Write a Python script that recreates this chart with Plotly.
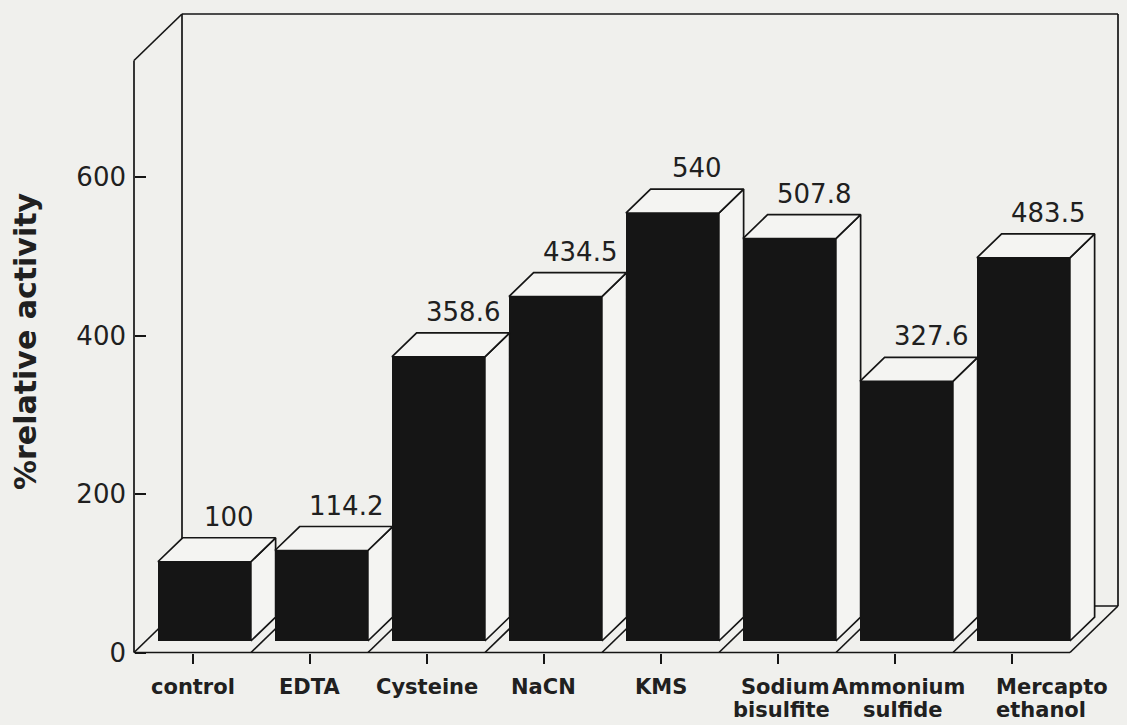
import plotly.graph_objects as go

# ---- data -------------------------------------------------------------
categories = ["control", "EDTA", "Cysteine", "NaCN", "KMS",
              "Sodium<br>bisulfite", "Ammonium<br>sulfide", "Mercapto<br>ethanol"]
activity = [100, 114.2, 358.6, 434.5, 540, 507.8, 327.6, 483.5]
y_ticks = [0, 200, 400, 600]
y_top = 747          # height of the drawn box (% units)

# ---- frame geometry ---------------------------------------------------
W, H = 1127, 725
ML, MR, MT, MB = 116, 0, 3, 57
X0_PX, Y0_PX = 134.0, 652.5      # front-left floor corner on the page
SX, SY = 117.0, 0.7925           # px per category step, px per % unit

x_lo = -0.5 - (X0_PX - ML) / SX
x_hi = x_lo + (W - ML - MR) / SX
y_lo = -((H - MB) - Y0_PX) / SY
y_hi = y_lo + (H - MT - MB) / SY

DX = 48.0 / SX       # oblique depth offset of the whole box, x units
DY = 46.5 / SY       # same, y units
Z0, Z1 = 0.247, 0.763  # front / back of the bars as fraction of box depth
HW = 46.5 / SX       # half bar width

INK = "#151515"
PAPER = "#f0f0ed"
FACE = "#f4f4f2"
n = len(categories)

fig = go.Figure()

# front faces of the bars
fig.add_trace(go.Bar(
    x=[i + Z0 * DX for i in range(n)],
    y=activity,
    base=Z0 * DY,
    width=2 * HW,
    marker=dict(color=INK, line=dict(width=0)),
    hoverinfo="skip",
))

# top and side faces of the bars
top_x, top_y, side_x, side_y = [], [], [], []
for i, v in enumerate(activity):
    xl, xr = i - HW, i + HW
    top_x += [xl + Z0 * DX, xr + Z0 * DX, xr + Z1 * DX, xl + Z1 * DX, xl + Z0 * DX, None]
    top_y += [v + Z0 * DY, v + Z0 * DY, v + Z1 * DY, v + Z1 * DY, v + Z0 * DY, None]
    side_x += [xr + Z0 * DX, xr + Z1 * DX, xr + Z1 * DX, xr + Z0 * DX, xr + Z0 * DX, None]
    side_y += [Z0 * DY, Z1 * DY, v + Z1 * DY, v + Z0 * DY, Z0 * DY, None]

for xs, ys in ((side_x, side_y), (top_x, top_y)):
    fig.add_trace(go.Scatter(
        x=xs, y=ys, mode="lines", fill="toself", fillcolor=FACE,
        line=dict(color=INK, width=1.7), hoverinfo="skip",
    ))

# box: floor, left wall and back wall outlines
def seg(x0, y0, x1, y1, w=1.7):
    fig.add_shape(type="line", xref="x", yref="y", x0=x0, y0=y0, x1=x1, y1=y1,
                  line=dict(color=INK, width=w), layer="below")

left, right = -0.5, n - 0.5
seg(left, 0, right, 0)                                  # floor front edge
seg(left + DX, DY, right + DX, DY)                      # floor back edge
for k in range(n + 1):                                  # floor dividers
    seg(left + k, 0, left + k + DX, DY)
seg(left, 0, left, y_top)                               # front vertical axis
seg(left, y_top, left + DX, y_top + DY)                 # left wall top
seg(left + DX, DY, left + DX, y_top + DY)               # back wall left edge
seg(left + DX, y_top + DY, right + DX, y_top + DY)      # back wall top edge
seg(right + DX, DY, right + DX, y_top + DY)             # back wall right edge

# value labels above each bar
for i, v in enumerate(activity):
    fig.add_annotation(
        x=i + Z1 * DX, y=v + Z1 * DY, xref="x", yref="y",
        text=f"{v:g}", showarrow=False, yanchor="bottom", yshift=4,
        font=dict(family="DejaVu Sans", size=26, color="#202020"),
    )

# category labels (one annotation per text line for tight line spacing)
label_nudge = {5: ("center", [8, 4]), 6: ("center", [4, 8]), 7: ("left", [-18, -18])}
for i, lab in enumerate(categories):
    anchor, shifts = label_nudge.get(i, ("center", [0, 0]))
    for k, line in enumerate(lab.split("<br>")):
        fig.add_annotation(
            x=i, y=0, xref="x", yref="y", text=line, showarrow=False,
            xanchor=anchor, yanchor="top", xshift=shifts[k], yshift=-20 - 23 * k,
            font=dict(family="DejaVu Sans", size=21, color="#202020", weight="bold"),
        )

# y-axis title
fig.add_annotation(
    xref="paper", yref="paper",
    x=(25 - ML) / (W - ML - MR), y=((H - MB) - 341) / (H - MT - MB),
    text="%relative activity", textangle=-90, showarrow=False,
    xanchor="center", yanchor="middle",
    font=dict(family="DejaVu Sans", size=30, color="#202020", weight="bold"),
)

fig.update_layout(
    width=W, height=H,
    margin=dict(l=ML, r=MR, t=MT, b=MB, pad=0),
    paper_bgcolor=PAPER, plot_bgcolor=PAPER,
    showlegend=False, bargap=0,
    xaxis=dict(
        range=[x_lo, x_hi], anchor="free", position=(0 - y_lo) / (y_hi - y_lo),
        tickvals=list(range(n)), showticklabels=False,
        ticks="outside", ticklen=10, tickwidth=1.5, tickcolor=INK,
        showline=False, showgrid=False, zeroline=False, automargin=False,
    ),
    yaxis=dict(
        range=[y_lo, y_hi], anchor="free", position=(left - x_lo) / (x_hi - x_lo),
        tickvals=y_ticks, ticks="inside", ticklen=11, tickwidth=1.5, tickcolor=INK,
        tickfont=dict(family="DejaVu Sans", size=26, color="#202020"),
        ticklabelstandoff=8,
        showline=False, showgrid=False, zeroline=False, automargin=False,
    ),
)

fig.write_html("out.html")
